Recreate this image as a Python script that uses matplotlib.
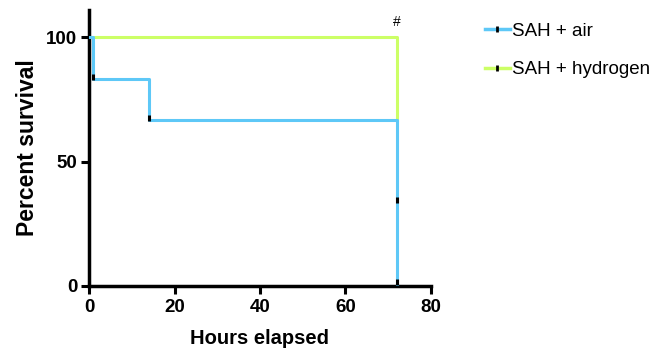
import matplotlib
matplotlib.use("Agg")
import matplotlib.pyplot as plt
from matplotlib.lines import Line2D

plt.rcParams['font.family'] = ['Liberation Sans', 'DejaVu Sans']
narrow = ['Liberation Sans Narrow', 'Liberation Sans', 'DejaVu Sans']

# survival data (Kaplan-Meier steps)
hours_air = [0, 1, 14, 72]
surv_air = [100, 83.33, 66.67, 0]
hours_h2 = [0, 72]
surv_h2 = [100, 66.67]

# tick marks shown on the curves
mark_x = [1, 14, 72, 72]
mark_y = [84, 67.5, 34.5, 1.5]

xticks = [0, 20, 40, 60, 80]
yticks = [0, 50, 100]

col_air = "#5EC8F7"
col_h2 = "#CCFF66"

fig = plt.figure(figsize=(6.5, 3.52), dpi=100)
ax = fig.add_axes([0.137, 0.1875, 0.526, 0.784])

ax.step(hours_h2, surv_h2, where="post", color=col_h2, lw=2.2, zorder=2)
ax.step(hours_air, surv_air, where="post", color=col_air, lw=2.2, zorder=3)
ax.plot(mark_x, mark_y, ls="none", marker="|", color="black", ms=4, mew=2.2, zorder=4)

ax.text(72, 106, "#", ha="center", va="center", fontsize=10)

ax.set_xlim(0, 80)
ax.set_ylim(0, 111)
ax.set_xticks(xticks)
ax.set_yticks(yticks)
for s in ["top", "right"]:
    ax.spines[s].set_visible(False)
for s in ["left", "bottom"]:
    ax.spines[s].set_linewidth(2.5)
ax.tick_params(width=2.2, length=5.5, labelsize=13.5, pad=3)
ax.tick_params(axis="x", pad=4)
for lab in ax.get_xticklabels() + ax.get_yticklabels():
    lab.set_fontweight("bold")

ax.set_xlabel("Hours elapsed", fontsize=14.5, fontweight="bold",
              family=narrow, labelpad=9)
ax.set_ylabel("Percent survival", fontsize=16.5, fontweight="bold", labelpad=5)

handles = [
    Line2D([], [], color=col_air, lw=2.5, marker="|", mec="black", ms=4, mew=2),
    Line2D([], [], color=col_h2, lw=2.5, marker="|", mec="black", ms=4, mew=2),
]
fig.legend(handles, ["SAH + air", "SAH + hydrogen"], loc="upper left",
           bbox_to_anchor=(0.735, 0.957), frameon=False, fontsize=13.5,
           handlelength=1.3, handletextpad=0.15, labelspacing=1.15,
           borderaxespad=0)

fig.savefig("out.png", dpi=100)
